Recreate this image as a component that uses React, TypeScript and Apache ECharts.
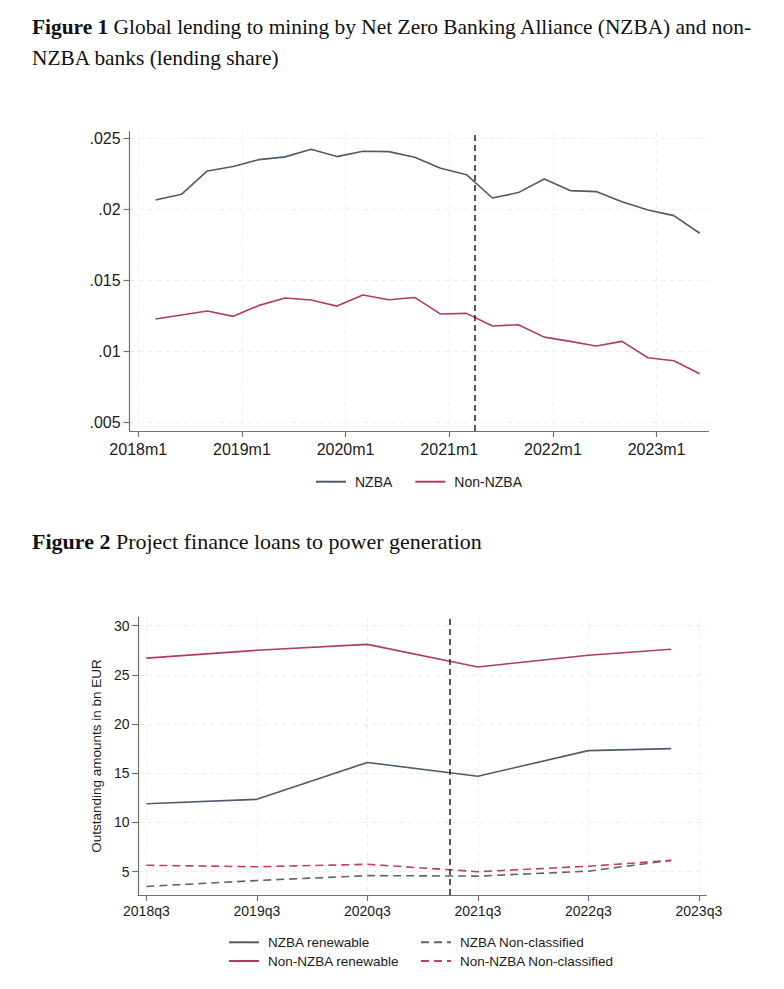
import React, { useEffect, useRef } from 'react';
import * as echarts from 'echarts';

// ---------- Figure 1 data ----------
const lendingMonths = [
  '2018m3', '2018m6', '2018m9', '2018m12',
  '2019m3', '2019m6', '2019m9', '2019m12',
  '2020m3', '2020m6', '2020m9', '2020m12',
  '2021m3', '2021m6', '2021m9', '2021m12',
  '2022m3', '2022m6', '2022m9', '2022m12',
  '2023m3', '2023m6',
];
const nzbaShare = [
  0.02066, 0.02106, 0.0227, 0.02301,
  0.0235, 0.02369, 0.02423, 0.02371,
  0.02409, 0.02406, 0.02366, 0.02289,
  0.02244, 0.0208, 0.02118, 0.02214,
  0.02132, 0.02125, 0.02054, 0.01996,
  0.01956, 0.01832,
];
const nonNzbaShare = [
  0.01229, 0.01257, 0.01285, 0.01248,
  0.01325, 0.01377, 0.01363, 0.0132,
  0.01398, 0.01365, 0.01381, 0.01264,
  0.01269, 0.0118, 0.01189, 0.01102,
  0.01072, 0.01039, 0.01072, 0.00957,
  0.00936, 0.00844,
];
const lendingTicks = ['2018m1', '2019m1', '2020m1', '2021m1', '2022m1', '2023m1'];
const shareTicks = [0.005, 0.01, 0.015, 0.02, 0.025];
const lendingPolicyMonth = '2021m4';

// ---------- Figure 2 data ----------
const financeQuarters = ['2018q3', '2019q3', '2020q3', '2021q3', '2022q3', '2023q2'];
const nzbaRenewable = [11.9, 12.35, 16.1, 14.7, 17.3, 17.5];
const nonNzbaRenewable = [26.7, 27.5, 28.1, 25.8, 27.0, 27.6];
const nzbaNonClassified = [3.5, 4.1, 4.6, 4.55, 5.05, 6.15];
const nonNzbaNonClassified = [5.65, 5.5, 5.75, 5.0, 5.55, 6.15];
const quarterTicks = ['2018q3', '2019q3', '2020q3', '2021q3', '2022q3', '2023q3'];
const amountTicks = [5, 10, 15, 20, 25, 30];
const financePolicyQuarter = '2021q2';

// ---------- helpers ----------
const monthIndex = (s: string) => {
  const [y, m] = s.split('m');
  return (Number(y) - 2018) * 12 + (Number(m) - 1);
};
const monthLabel = (v: number) => `${2018 + Math.floor(v / 12)}m${(v % 12) + 1}`;
const quarterIndex = (s: string) => {
  const [y, q] = s.split('q');
  return (Number(y) - 2018) * 4 + (Number(q) - 3);
};
const quarterLabel = (v: number) => {
  const t = v + 2; // quarters counted from 2018q1
  return `${2018 + Math.floor(t / 4)}q${(t % 4) + 1}`;
};

const SANS = '"Liberation Sans", Arial, sans-serif';
const SERIF = '"Liberation Serif", "Times New Roman", serif';
const NAVY = '#4f5b6d';
const CRANBERRY = '#b13c60';
const AXIS = '#707070';
const LABEL = '#1c1c1c';
const GRIDLINE = '#eeeeee';

export default function App() {
  const ref = useRef<HTMLDivElement>(null);

  useEffect(() => {
    if (!ref.current) return;
    const chart = echarts.init(ref.current, null, { renderer: 'svg' });

    const lendingX = lendingMonths.map(monthIndex);
    const lendingTickIdx = lendingTicks.map(monthIndex);
    const quarterX = financeQuarters.map(quarterIndex);
    const quarterTickIdx = quarterTicks.map(quarterIndex);

    const pair = (xs: number[], ys: number[]) => xs.map((x, i) => [x, ys[i]]);

    const titleStyle = (size: number) => ({
      fontFamily: SERIF,
      fontSize: size,
      fontWeight: 'normal' as const,
      color: '#111',
      lineHeight: 26,
      rich: {
        b: { fontFamily: SERIF, fontSize: size, fontWeight: 'bold' as const, color: '#111', lineHeight: 26 },
      },
    });

    const axisLine = { show: true, onZero: false, lineStyle: { color: AXIS, width: 1.2 } };
    const splitLine = { show: true, lineStyle: { color: GRIDLINE, width: 1, type: [5, 4] as number[] } };

    const option: any = {
      animation: false,
      backgroundColor: '#ffffff',
      title: [
        {
          text: '{b|Figure 1} Global lending to mining by Net Zero Banking Alliance (NZBA) and non-',
          left: 32,
          top: 13.5,
          padding: 0,
          textStyle: titleStyle(21.4),
        },
        {
          text: 'NZBA banks (lending share)',
          left: 32,
          top: 44.5,
          padding: 0,
          textStyle: titleStyle(21.4),
        },
        {
          text: '{b|Figure 2} Project finance loans to power generation',
          left: 32,
          top: 528.5,
          padding: 0,
          textStyle: titleStyle(22),
        },
      ],
      legend: [
        {
          data: ['NZBA', 'Non-NZBA'],
          left: 315,
          top: 474.7,
          padding: 0,
          orient: 'horizontal',
          itemWidth: 30,
          itemHeight: 14,
          itemGap: 22,
          itemStyle: { opacity: 0 },
          textStyle: { fontFamily: SANS, fontSize: 14, color: LABEL, padding: [0, 0, 0, 4] },
          selectedMode: false,
        },
        {
          data: ['NZBA renewable', 'Non-NZBA renewable'],
          left: 228,
          top: 935.3,
          padding: 0,
          orient: 'vertical',
          itemWidth: 30,
          itemHeight: 14,
          itemGap: 4.7,
          itemStyle: { opacity: 0 },
          textStyle: { fontFamily: SANS, fontSize: 13.5, color: LABEL, padding: [0, 0, 0, 4] },
          selectedMode: false,
        },
        {
          data: ['NZBA Non-classified', 'Non-NZBA Non-classified'],
          left: 420,
          top: 935.3,
          padding: 0,
          orient: 'vertical',
          itemWidth: 30,
          itemHeight: 14,
          itemGap: 4.7,
          itemStyle: { opacity: 0 },
          textStyle: { fontFamily: SANS, fontSize: 13.5, color: LABEL, padding: [0, 0, 0, 4] },
          selectedMode: false,
        },
      ],
      grid: [
        { left: 129.6, right: 75.6, top: 131.7, bottom: 558 },
        { left: 138.1, right: 77.7, top: 617, bottom: 94 },
      ],
      xAxis: [
        {
          type: 'value',
          gridIndex: 0,
          min: -1,
          max: 66,
          axisLine,
          axisTick: { show: true, length: 6, customValues: lendingTickIdx, lineStyle: { color: AXIS, width: 1.2 } },
          axisLabel: {
            customValues: lendingTickIdx,
            formatter: (v: number) => monthLabel(v),
            fontFamily: SANS,
            fontSize: 16,
            color: LABEL,
            margin: 10,
          },
          splitLine,
        },
        {
          type: 'value',
          gridIndex: 1,
          min: -0.3,
          max: 20.27,
          axisLine,
          axisTick: { show: true, length: 6, customValues: quarterTickIdx, lineStyle: { color: AXIS, width: 1.2 } },
          axisLabel: {
            customValues: quarterTickIdx,
            formatter: (v: number) => quarterLabel(v),
            fontFamily: SANS,
            fontSize: 14,
            color: LABEL,
            margin: 9,
          },
          splitLine,
        },
      ],
      yAxis: [
        {
          type: 'value',
          gridIndex: 0,
          min: 0.00442,
          max: 0.02546,
          axisLine,
          axisTick: { show: true, length: 6, customValues: shareTicks, lineStyle: { color: AXIS, width: 1.2 } },
          axisLabel: {
            customValues: shareTicks,
            formatter: (v: number) => String(v).replace(/^0/, ''),
            fontFamily: SANS,
            fontSize: 16,
            color: LABEL,
            margin: 9,
          },
          splitLine,
        },
        {
          type: 'value',
          gridIndex: 1,
          min: 2.63,
          max: 30.88,
          name: 'Outstanding amounts in bn EUR',
          nameLocation: 'middle',
          nameRotate: 90,
          nameGap: 34,
          nameTextStyle: { fontFamily: SANS, fontSize: 13.5, color: LABEL },
          axisLine,
          axisTick: { show: true, length: 6, customValues: amountTicks, lineStyle: { color: AXIS, width: 1.2 } },
          axisLabel: {
            customValues: amountTicks,
            fontFamily: SANS,
            fontSize: 14,
            color: LABEL,
            margin: 8.5,
          },
          splitLine,
        },
      ],
      series: [
        {
          name: 'NZBA',
          type: 'line',
          xAxisIndex: 0,
          yAxisIndex: 0,
          data: pair(lendingX, nzbaShare),
          symbol: 'none',
          color: NAVY,
          lineStyle: { color: NAVY, width: 1.6 },
          markLine: {
            silent: true,
            symbol: ['none', 'none'],
            label: { show: false },
            lineStyle: { color: '#222', width: 1.5, type: [6, 4] },
            data: [{ xAxis: monthIndex(lendingPolicyMonth) }],
          },
        },
        {
          name: 'Non-NZBA',
          type: 'line',
          xAxisIndex: 0,
          yAxisIndex: 0,
          data: pair(lendingX, nonNzbaShare),
          symbol: 'none',
          color: CRANBERRY,
          lineStyle: { color: CRANBERRY, width: 1.6 },
        },
        {
          name: 'NZBA renewable',
          type: 'line',
          xAxisIndex: 1,
          yAxisIndex: 1,
          data: pair(quarterX, nzbaRenewable),
          symbol: 'none',
          color: NAVY,
          lineStyle: { color: NAVY, width: 1.6 },
          markLine: {
            silent: true,
            symbol: ['none', 'none'],
            label: { show: false },
            lineStyle: { color: '#222', width: 1.5, type: [6, 4] },
            data: [{ xAxis: quarterIndex(financePolicyQuarter) }],
          },
        },
        {
          name: 'Non-NZBA renewable',
          type: 'line',
          xAxisIndex: 1,
          yAxisIndex: 1,
          data: pair(quarterX, nonNzbaRenewable),
          symbol: 'none',
          color: CRANBERRY,
          lineStyle: { color: CRANBERRY, width: 1.6 },
        },
        {
          name: 'NZBA Non-classified',
          type: 'line',
          xAxisIndex: 1,
          yAxisIndex: 1,
          data: pair(quarterX, nzbaNonClassified),
          symbol: 'none',
          color: '#5b6573',
          lineStyle: { color: '#5b6573', width: 1.6, type: [8, 5] },
        },
        {
          name: 'Non-NZBA Non-classified',
          type: 'line',
          xAxisIndex: 1,
          yAxisIndex: 1,
          data: pair(quarterX, nonNzbaNonClassified),
          symbol: 'none',
          color: '#c23e62',
          lineStyle: { color: '#c23e62', width: 1.6, type: [8, 5] },
        },
      ],
    };

    chart.setOption(option);
    return () => chart.dispose();
  }, []);

  return (
    <div
      ref={ref}
      style={{ position: 'absolute', left: 0, top: 0, width: 784, height: 989, background: '#fff' }}
    />
  );
}
